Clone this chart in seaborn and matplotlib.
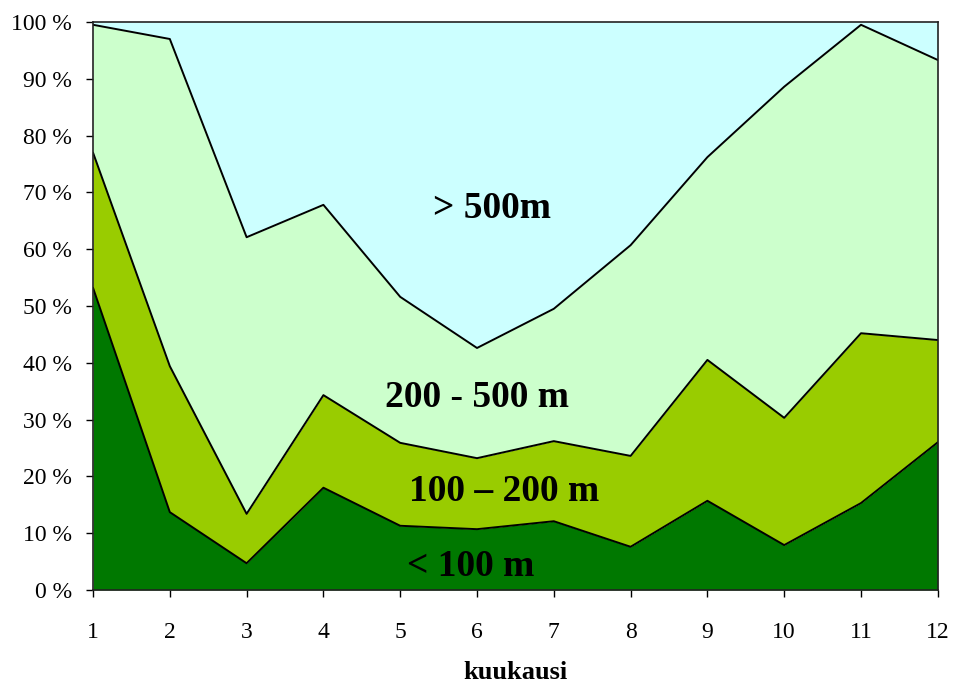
import numpy as np
import pandas as pd
import matplotlib
matplotlib.use('Agg')
import matplotlib.pyplot as plt
import seaborn as sns

# monthly share (%) of each distance class
months = [1, 2, 3, 4, 5, 6, 7, 8, 9, 10, 11, 12]
alle_100 = [53.2, 13.7, 4.7, 18.0, 11.3, 10.7, 12.1, 7.6, 15.7, 7.9, 15.3, 26.0]
v100_200 = [23.8, 25.7, 8.7, 16.3, 14.6, 12.5, 14.1, 16.0, 24.8, 22.4, 29.9, 18.0]
v200_500 = [22.5, 57.6, 48.7, 33.5, 25.7, 19.4, 23.3, 37.1, 35.7, 58.3, 54.3, 49.3]
yli_500 = [0.5, 3.0, 37.9, 32.2, 48.4, 57.4, 50.5, 39.3, 23.8, 11.4, 0.5, 6.7]

labels = ['< 100 m', '100 – 200 m', '200 - 500 m', '> 500m']
colors = ['#007800', '#99CC00', '#CCFFCC', '#CCFFFF']

sns.set_style('ticks')
plt.rcParams['font.family'] = ['Liberation Serif', 'DejaVu Serif']
plt.rcParams['text.color'] = 'black'
plt.rcParams['xtick.color'] = 'black'
plt.rcParams['ytick.color'] = 'black'
plt.rcParams['axes.labelcolor'] = 'black'

df = pd.DataFrame({'kk': months, 'a': alle_100, 'b': v100_200,
                   'c': v200_500, 'd': yli_500})
cum = df[['a', 'b', 'c', 'd']].cumsum(axis=1)

fig = plt.figure(figsize=(9.55, 6.86), dpi=100)
ax = fig.add_axes([0.0974, 0.14, 0.8846, 0.828])

lower = np.zeros(len(months))
for col, c in zip(['a', 'b', 'c', 'd'], colors):
    upper = cum[col].values
    ax.fill_between(df['kk'], lower, upper, color=c, linewidth=0)
    lower = upper

for col in ['a', 'b', 'c']:
    sns.lineplot(x=df['kk'], y=cum[col], color='black', linewidth=1.4, ax=ax)

ax.set_xlim(1, 12)
ax.set_ylim(0, 100)
ax.set_xticks(months)
ax.set_yticks(range(0, 101, 10))
ax.set_yticklabels([f'{v} %' for v in range(0, 101, 10)])
ax.tick_params(axis='both', labelsize=17, length=5, width=1)
ax.tick_params(axis='y', pad=10)
ax.tick_params(axis='x', pad=18)
ax.set_xlabel('kuukausi', fontsize=19, fontweight='bold', labelpad=13)
ax.set_ylabel('')
for s in ax.spines.values():
    s.set_visible(True)
    s.set_linewidth(1.2)
    s.set_color('#222222')

txt = dict(fontsize=27, fontweight='bold', ha='center', va='center')
ax.text(6.19, 67.2, labels[3], **txt)
ax.text(6.0, 33.8, labels[2], **txt)
ax.text(6.35, 17.3, labels[1], **txt)
ax.text(5.92, 4.2, labels[0], **txt)

fig.savefig('out.png', dpi=100)
